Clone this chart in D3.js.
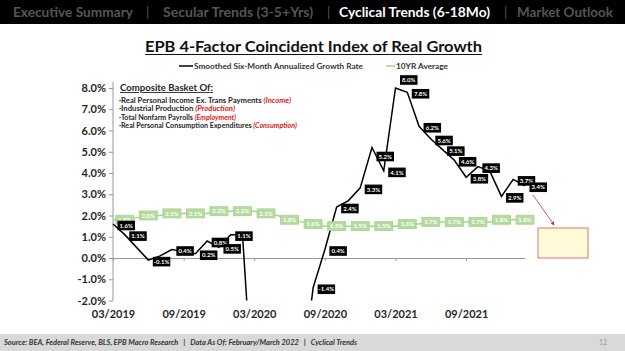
<!DOCTYPE html>
<html>
<head>
<meta charset="utf-8">
<script src="https://cdn.jsdelivr.net/npm/d3@7"></script>
<style>
  body { margin: 0; background: #fff; }
  svg { display: block; font-family: Lato, "Open Sans", sans-serif; }
</style>
</head>
<body>
<div class="canvas"></div>
<script>
var width = 625;
var height = 351;

// monthly categories 03/2019 .. 02/2022
var months = d3.timeMonth.range(new Date(2019, 2, 1), new Date(2022, 2, 1));
var tickMonths = ['03/2019', '09/2019', '03/2020', '09/2020', '03/2021', '09/2021'];
var yTicks = [-2, -1, 0, 1, 2, 3, 4, 5, 6, 7, 8];

// smoothed six-month annualized growth rate (%), 2020 trough runs off the chart
var growth = [1.6, 1.1, 0.5, -0.1, 0.1, 0.4, 0.3, 0.2, 0.8, 0.5, 1.1, 1.1,
              -7.5, -14, -16, -12, -6, -1.4, 0.4, 2.4, 2.7, 3.3, 5.2, 4.1,
              8.0, 7.8, 6.2, 5.6, 5.1, 4.6, 3.8, 4.3, 4.1, 2.9, 3.7, 3.4];
var growthLabelled = [0, 1, 3, 5, 7, 8, 9, 10, 17, 18, 19, 21, 22, 23, 24, 25,
                      26, 27, 28, 29, 30, 31, 33, 34, 35];

// 10yr average (%)
var avg10 = [1.8, 1.8, 1.9, 2.0, 2.0, 2.1, 2.1, 2.1, 2.1, 2.2, 2.2, 2.2,
             2.2, 2.1, 2.0, 1.8, 1.7, 1.6, 1.5, 1.5, 1.5, 1.5, 1.5, 1.5,
             1.5, 1.6, 1.6, 1.7, 1.7, 1.7, 1.7, 1.7, 1.7, 1.8, 1.8, 1.8];

var navItems = ['Executive Summary', 'Secular Trends (3-5+Yrs)', 'Cyclical Trends (6-18Mo)', 'Market Outlook'];
var basketItems = [
  ['Real Personal Income Ex. Trans Payments ', '(Income)'],
  ['Industrial Production ', '(Production)'],
  ['Total Nonfarm Payrolls ', '(Employment)'],
  ['Real Personal Consumption Expenditures ', '(Consumption)']
];

var fmtMonth = d3.timeFormat('%m/%Y');
var cats = months.map(fmtMonth);

var svg = d3.select('.canvas')
  .append('svg')
  .attr('width', width)
  .attr('height', height);

// header bar
svg.append('rect').attr('x', 0).attr('y', 0).attr('width', width).attr('height', 24).attr('fill', '#000');
var navX = [13, 163, 339, 517];
var navW = [120, 150, 151, 96];
navItems.forEach(function(t, i) {
  svg.append('text')
    .attr('x', navX[i]).attr('y', 17)
    .attr('font-size', 13).attr('font-weight', 'bold')
    .attr('textLength', navW[i]).attr('lengthAdjust', 'spacingAndGlyphs')
    .attr('fill', i == 2 ? '#fff' : '#555')
    .text(t);
});
[146, 327, 504].forEach(function(x) {
  svg.append('text').attr('x', x).attr('y', 17).attr('font-size', 13)
    .attr('fill', '#555').text('|');
});

// title + legend
svg.append('text')
  .attr('x', 145).attr('y', 52)
  .attr('font-size', 15).attr('font-weight', 'bold').attr('fill', '#111')
  .attr('textLength', 337).attr('lengthAdjust', 'spacingAndGlyphs')
  .text('EPB 4-Factor Coincident Index of Real Growth');
svg.append('line').attr('x1', 145).attr('x2', 482).attr('y1', 54.5).attr('y2', 54.5)
  .attr('stroke', '#111').attr('stroke-width', 1);

svg.append('line').attr('x1', 179).attr('x2', 193).attr('y1', 66).attr('y2', 66)
  .attr('stroke', '#000').attr('stroke-width', 1.5);
svg.append('text').attr('x', 194).attr('y', 68.5).attr('font-size', 7.5).attr('font-weight', 'bold')
  .attr('fill', '#333').attr('textLength', 169).attr('lengthAdjust', 'spacingAndGlyphs')
  .text('Smoothed Six-Month Annualized Growth Rate');
svg.append('line').attr('x1', 386).attr('x2', 395).attr('y1', 66).attr('y2', 66)
  .attr('stroke', '#a9d18e').attr('stroke-width', 1.5);
svg.append('text').attr('x', 396).attr('y', 68.5).attr('font-size', 7.5).attr('font-weight', 'bold')
  .attr('fill', '#333').attr('textLength', 52).attr('lengthAdjust', 'spacingAndGlyphs')
  .text('10YR Average');

// scales
var xscale = d3.scalePoint().domain(cats).range([113, 525]);
var yscale = d3.scaleLinear().domain([-2, 8]).range([300.5, 88]);

// y axis
var yaxis = d3.axisLeft(yscale).tickValues(yTicks)
  .tickFormat(function(d) { return d.toFixed(1) + '%'; })
  .tickSize(4).tickPadding(3).tickSizeOuter(0);
var gy = svg.append('g').attr('transform', 'translate(113,0)').call(yaxis);
gy.select('.domain').attr('stroke', '#999').attr('d', 'M0,82V300.5');
gy.selectAll('.tick line').attr('stroke', '#999');
gy.selectAll('.tick text').attr('font-size', 11).attr('font-weight', 'bold')
  .attr('fill', '#262626').attr('font-family', 'Lato, sans-serif');

// zero line with tick marks
var xaxis = d3.axisBottom(xscale).tickValues(tickMonths).tickFormat('')
  .tickSize(3).tickSizeOuter(0);
var gx = svg.append('g').attr('transform', 'translate(0,' + yscale(0) + ')').call(xaxis);
gx.selectAll('path, line').attr('stroke', '#999');

// month labels at the bottom
var xlab = d3.axisBottom(xscale).tickValues(tickMonths).tickSize(0).tickPadding(0);
var gxl = svg.append('g').attr('transform', 'translate(0,310)').call(xlab);
gxl.select('.domain').remove();
gxl.selectAll('text').attr('font-size', 11).attr('font-weight', 'bold')
  .attr('fill', '#262626').attr('font-family', 'Lato, sans-serif');

// basket annotation
svg.append('text').attr('x', 120).attr('y', 91).attr('font-size', 9).attr('font-weight', 'bold')
  .attr('fill', '#262626').attr('text-decoration', 'underline')
  .attr('textLength', 93).attr('lengthAdjust', 'spacingAndGlyphs')
  .text('Composite Basket Of:');
var basketW = [172, 116, 117, 178];
basketItems.forEach(function(b, i) {
  var t = svg.append('text').attr('x', 119).attr('y', 102.5 + i * 8.6)
    .attr('font-size', 7).attr('font-weight', 'bold').attr('fill', '#262626')
    .attr('textLength', basketW[i]).attr('lengthAdjust', 'spacingAndGlyphs');
  t.append('tspan').text('\u00b7' + b[0]);
  t.append('tspan').attr('fill', '#e02020').attr('font-style', 'italic').text(b[1]);
});

// clip
svg.append('clipPath').attr('id', 'plot')
  .append('rect').attr('x', 100).attr('y', 60).attr('width', 440).attr('height', 240.5);

// 10yr average line
var line = d3.line()
  .x(function(d, i) { return xscale(cats[i]); })
  .y(function(d) { return yscale(d); });

svg.append('path').datum(avg10)
  .attr('d', line).attr('fill', 'none')
  .attr('stroke', '#a9d18e').attr('stroke-width', 1.5);

// growth line
svg.append('path').datum(growth)
  .attr('clip-path', 'url(#plot)')
  .attr('d', line).attr('fill', 'none')
  .attr('stroke', '#000').attr('stroke-width', 1.5);

// 10yr labels (every other month)
var avgLab = svg.append('g').selectAll('g')
  .data(avg10.map(function(v, i) { return { v: v, i: i }; })
    .filter(function(d) { return d.i % 2 == 1; }))
  .enter().append('g')
  .attr('transform', function(d) { return 'translate(' + xscale(cats[d.i]) + ',' + yscale(d.v) + ')'; });
avgLab.append('rect').attr('x', -9).attr('y', -4.5).attr('width', 18).attr('height', 9)
  .attr('fill', '#b6da9f').attr('stroke', '#a9d18e').attr('stroke-width', 0.8);
avgLab.append('text').attr('text-anchor', 'middle').attr('y', 2.2)
  .attr('font-size', 6).attr('font-weight', 'bold').attr('fill', '#fff')
  .text(function(d) { return d.v.toFixed(1) + '%'; });

// growth labels
var labelShift = { 22: 9, 24: -8 };
var gLab = svg.append('g').selectAll('g')
  .data(growthLabelled.map(function(i) { return { v: growth[i], i: i }; }))
  .enter().append('g')
  .attr('transform', function(d) {
    var dy = labelShift[d.i] !== undefined ? labelShift[d.i] : 1.5;
    return 'translate(' + (xscale(cats[d.i]) + 4.5) + ',' + (yscale(d.v) + dy) + ')';
  });
gLab.append('rect').attr('x', 0).attr('y', -4.8).attr('width', 17.5).attr('height', 9.6)
  .attr('fill', '#000');
gLab.append('text').attr('x', 8.75).attr('text-anchor', 'middle').attr('y', 2.2)
  .attr('font-size', 6).attr('font-weight', 'bold').attr('fill', '#fff')
  .text(function(d) { return d.v.toFixed(1) + '%'; });

// callout box + arrow
svg.append('defs').append('marker').attr('id', 'arr')
  .attr('viewBox', '0 0 6 6').attr('refX', 5).attr('refY', 3)
  .attr('markerWidth', 5).attr('markerHeight', 5).attr('orient', 'auto')
  .append('path').attr('d', 'M0,0L6,3L0,6Z').attr('fill', '#b03a48');
svg.append('line').attr('x1', 533).attr('y1', 195).attr('x2', 554).attr('y2', 225)
  .attr('stroke', '#b03a48').attr('stroke-width', 0.8).attr('marker-end', 'url(#arr)');
svg.append('rect').attr('x', 538).attr('y', 228).attr('width', 50).attr('height', 30)
  .attr('fill', '#fffbd9').attr('stroke', '#e57373').attr('stroke-width', 1);

// footer
svg.append('rect').attr('x', 0).attr('y', 334).attr('width', width).attr('height', 17).attr('fill', '#d9d9d9');
svg.append('text').attr('x', 4).attr('y', 345).attr('font-size', 6.5)
  .attr('font-weight', 'bold').attr('font-style', 'italic').attr('fill', '#333')
  .attr('textLength', 353).attr('lengthAdjust', 'spacingAndGlyphs')
  .attr('xml:space', 'preserve')
  .text('Source: BEA, Federal Reserve, BLS, EPB Macro Research   |   Data As Of: February/March 2022   |   Cyclical Trends');
svg.append('text').attr('x', 603).attr('y', 345).attr('text-anchor', 'middle')
  .attr('font-size', 7).attr('fill', '#999').text('12');
</script>
</body>
</html>
